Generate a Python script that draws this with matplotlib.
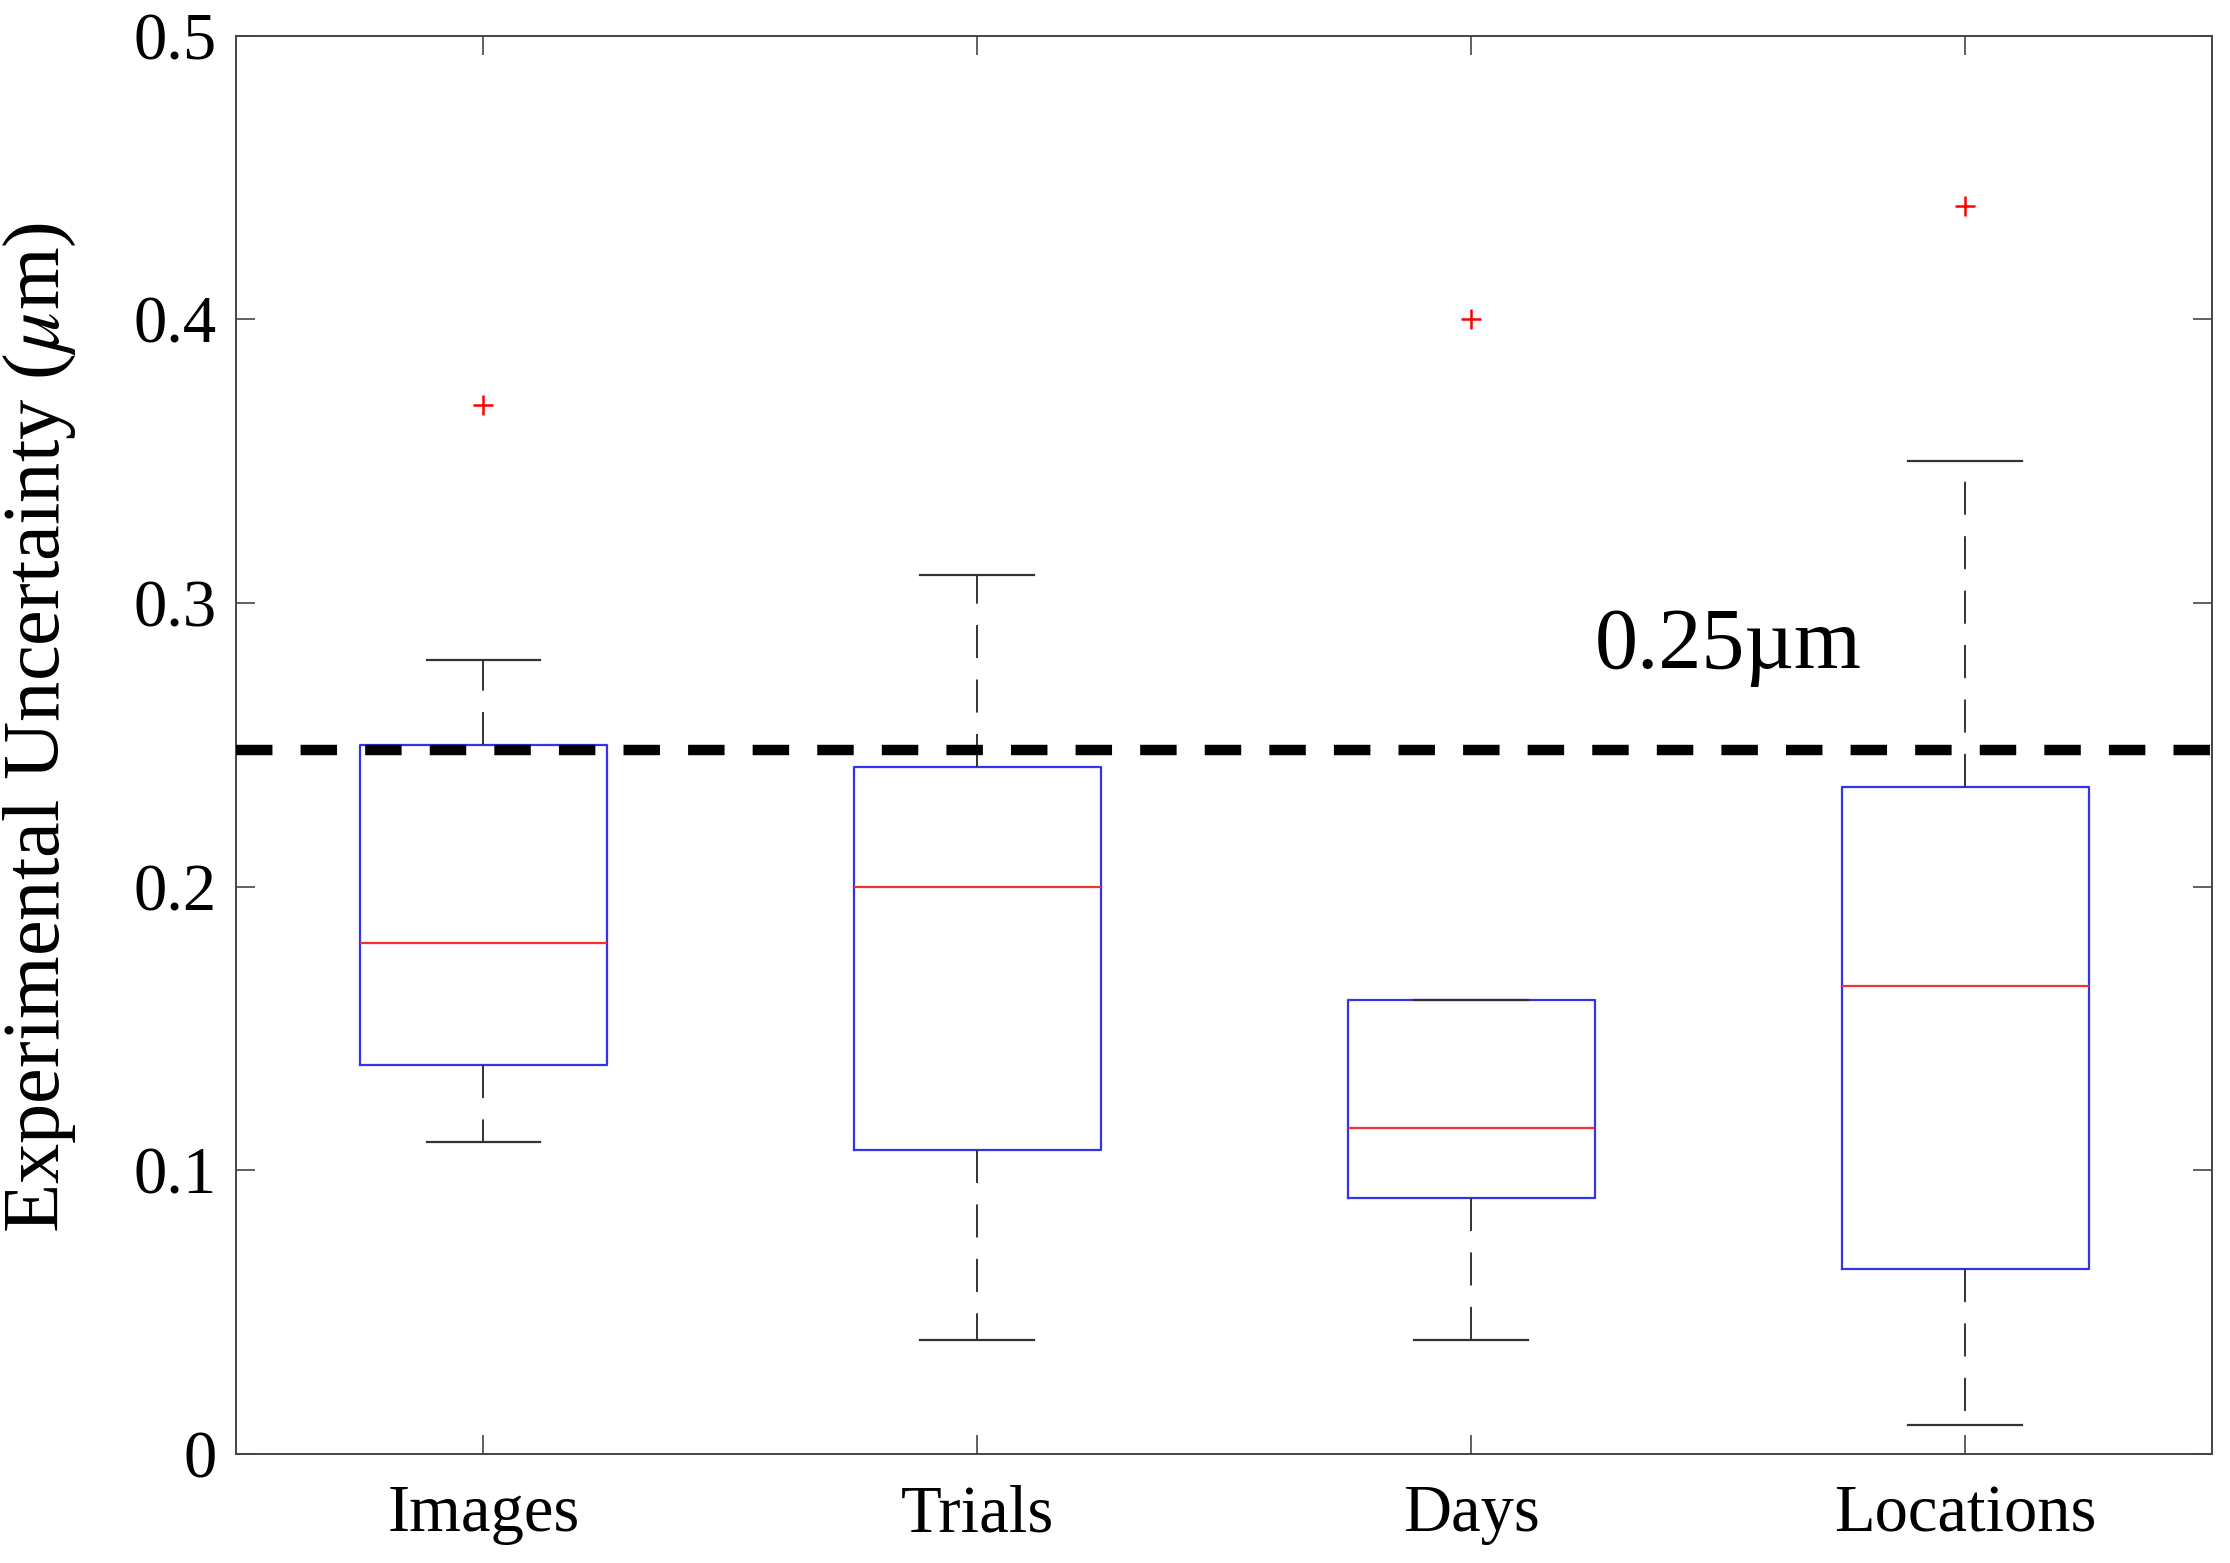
import matplotlib
matplotlib.use('Agg')
import matplotlib.pyplot as plt

plt.rcParams['font.family'] = ['Liberation Serif', 'DejaVu Serif']
plt.rcParams['mathtext.fontset'] = 'stix'

groups = ['Images', 'Trials', 'Days', 'Locations']
whislo = [0.11, 0.04, 0.04, 0.01]
q1 = [0.137, 0.107, 0.09, 0.065]
med = [0.18, 0.20, 0.115, 0.165]
q3 = [0.25, 0.242, 0.16, 0.235]
whishi = [0.28, 0.31, 0.16, 0.35]
fliers = [[0.37], [], [0.40], [0.44]]
threshold = 0.248

stats = []
for i in range(len(groups)):
    stats.append(dict(label=groups[i], whislo=whislo[i], q1=q1[i], med=med[i],
                      q3=q3[i], whishi=whishi[i], fliers=fliers[i]))

fig = plt.figure(figsize=(22.3, 15.63), dpi=100)
ax = fig.add_axes([0.106, 0.070, 0.886, 0.907])

bp = ax.bxp(stats, widths=0.5, capwidths=0.23, patch_artist=False,
            boxprops=dict(color='#3333ee', lw=1.6),
            medianprops=dict(color='#ee3333', lw=1.6),
            whiskerprops=dict(color='#333333', lw=1.4),
            capprops=dict(color='#333333', lw=1.6),
            flierprops=dict(marker='+', markeredgecolor='red', markersize=14,
                            markeredgewidth=1.8))
for w in bp['whiskers']:
    w.set_dashes((17, 11))

ax.axhline(threshold, color='black', lw=7.5, dashes=(3.5, 2.7), zorder=5)
ax.text(3.25, 0.277, '0.25\u00b5m', fontsize=62, ha='left', va='baseline')

ax.set_xlim(0.5, 4.5)
ax.set_ylim(0, 0.5)
ax.set_yticks([0, 0.1, 0.2, 0.3, 0.4, 0.5])
ax.set_yticklabels(['0', '0.1', '0.2', '0.3', '0.4', '0.5'])
ax.tick_params(direction='in', length=14, width=1.2, color='#444444',
               labelsize=48, top=True, right=True, pad=14)
ax.tick_params(axis='x', pad=22)
for s in ax.spines.values():
    s.set_color('#444444')
    s.set_linewidth(1.4)
ax.set_ylabel('Experimental Uncertainty ($\\mu$m)', fontsize=58)
ax.yaxis.set_label_coords(-0.080, 0.512)

fig.savefig('out.png', dpi=100)
